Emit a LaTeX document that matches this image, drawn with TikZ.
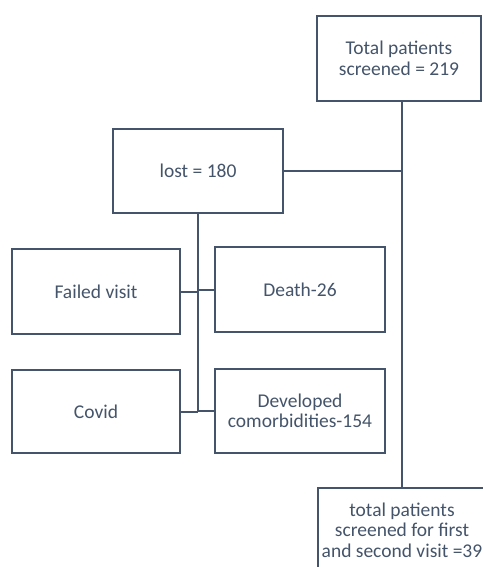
\documentclass[tikz,border=0pt]{standalone}
\usepackage{fontspec}
\setmainfont{Carlito}
\definecolor{slate}{HTML}{44546A}
\begin{document}
\begin{tikzpicture}[x=1pt,y=-1pt,
  box/.style={draw=slate,line width=1.5pt,fill=white,text=slate,align=center,
    inner sep=0pt,font=\fontsize{19.5}{20.5}\selectfont},
  link/.style={draw=slate,line width=2pt}]
\useasboundingbox (0,0) rectangle (482,567);
\node[box,minimum width=164pt,minimum height=85pt] (top) at (399,58.5) {Total patients\\screened = 219};
\node[box,minimum width=170pt,minimum height=84pt] (lost) at (198,171) {lost = 180};
\node[box,minimum width=168pt,minimum height=85pt] (failed) at (96,291.5) {Failed visit};
\node[box,minimum width=170pt,minimum height=85pt] (death) at (300,289.5) {Death-26};
\node[box,minimum width=168pt,minimum height=83pt] (covid) at (96,411.5) {Covid};
\node[box,minimum width=170pt,minimum height=84pt] (dev) at (300,411) {Developed\\comorbidities-154};
\node[box,minimum width=168pt,minimum height=84pt,text depth=0pt] (bot) at (402,530) {total patients\\screened for first\\and second visit =39};
\coordinate (tj) at (top.south -| bot.north);
\coordinate (lj) at (lost.east -| bot.north);
\coordinate (fj) at (failed.east -| lost.south);
\coordinate (cj) at (covid.east -| lost.south);
\draw[link] (tj) -- (bot.north);
\draw[link] (lost.east) -- (lj);
\draw[link] (lost.south) -- (cj);
\draw[link] (failed.east) -- (fj);
\draw[link] (death.west) -- (death.west -| lost.south);
\draw[link] (covid.east) -- (cj);
\draw[link] (dev.west) -- (dev.west -| lost.south);
\end{tikzpicture}
\end{document}
